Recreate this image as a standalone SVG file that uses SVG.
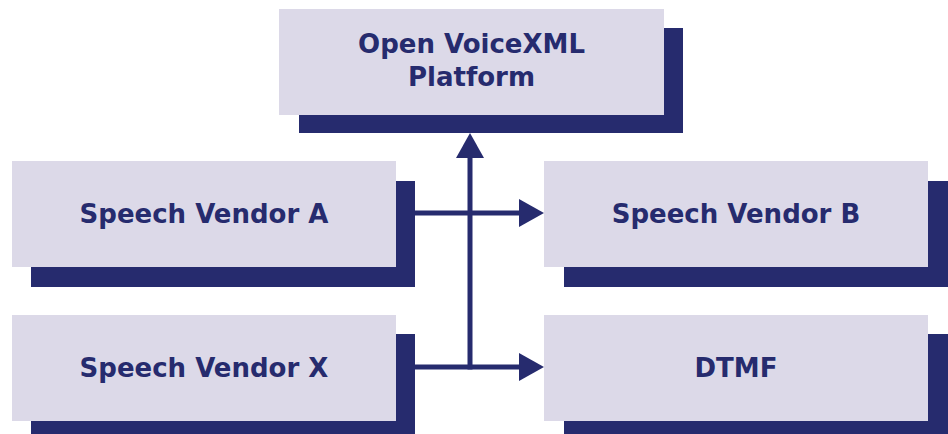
<svg xmlns="http://www.w3.org/2000/svg" width="948" height="434" viewBox="0 0 948 434">
  <defs>
    <style>
      .shadow { fill: #262B6E; }
      .box { fill: #DCD9E8; }
      .label { font-family: "DejaVu Sans", Verdana, sans-serif; font-weight: bold; font-size: 26px; fill: #262B6E; text-anchor: middle; }
      .line { stroke: #262B6E; stroke-width: 5; fill: none; }
      .head { fill: #262B6E; }
    </style>
  </defs>
  <rect width="948" height="434" fill="#FFFFFF"/>

  <g id="platform">
    <rect class="shadow" x="299" y="28" width="384" height="105"/>
    <rect class="box" x="279" y="9" width="385" height="106"/>
    <text class="label" x="471.5" y="53">Open VoiceXML</text>
    <text class="label" x="471.5" y="86">Platform</text>
  </g>

  <g id="vendorA">
    <rect class="shadow" x="31" y="181" width="384" height="106"/>
    <rect class="box" x="12" y="161" width="384" height="106"/>
    <text class="label" x="204" y="223">Speech Vendor A</text>
  </g>

  <g id="vendorX">
    <rect class="shadow" x="31" y="334" width="384" height="106"/>
    <rect class="box" x="12" y="315" width="384" height="106"/>
    <text class="label" x="204" y="377">Speech Vendor X</text>
  </g>

  <g id="vendorB">
    <rect class="shadow" x="564" y="181" width="384" height="106"/>
    <rect class="box" x="544" y="161" width="384" height="106"/>
    <text class="label" x="736" y="223">Speech Vendor B</text>
  </g>

  <g id="dtmf">
    <rect class="shadow" x="564" y="334" width="384" height="106"/>
    <rect class="box" x="544" y="315" width="384" height="106"/>
    <text class="label" x="736" y="377">DTMF</text>
  </g>

  <g id="connectors">
    <line class="line" x1="470" y1="369.5" x2="470" y2="156"/>
    <polygon class="head" points="470,133 456,158 484,158"/>
    <line class="line" x1="415" y1="213" x2="521" y2="213"/>
    <polygon class="head" points="544,213 519,199 519,227"/>
    <line class="line" x1="415" y1="367" x2="521" y2="367"/>
    <polygon class="head" points="544,367 519,353 519,381"/>
  </g>
</svg>
